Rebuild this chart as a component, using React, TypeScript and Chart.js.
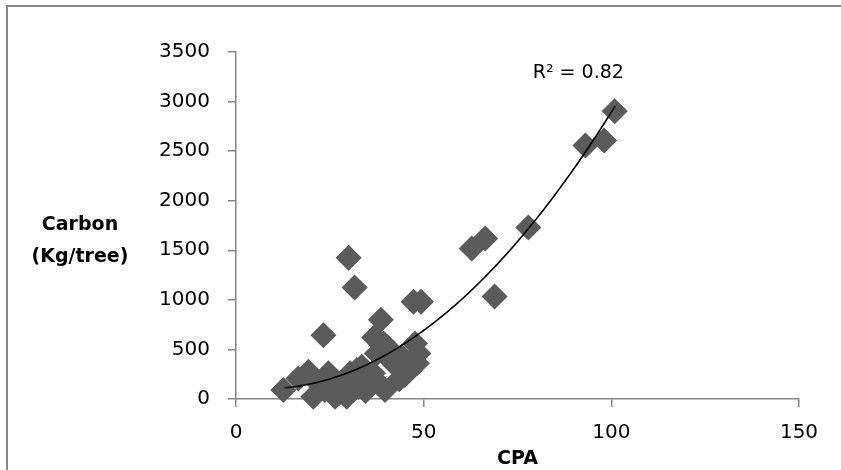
import { useEffect, useRef } from 'react';
import { Chart, registerables } from 'chart.js';

Chart.register(...registerables);

// CPA (x) and Carbon in Kg/tree (y)
const cpa = [
  12.6, 16.6, 19.3, 20.6, 21.5, 23.3, 23.7, 24.6, 26.4, 27.5, 28.2, 29.5, 30.0, 30.4,
  31.6, 32.2, 32.6, 33.5, 34.5, 35.7, 36.5, 36.8, 37.5, 37.9, 38.6, 39.3, 39.7, 40.2,
  41.0, 42.4, 43.5, 44.2, 45.0, 46.0, 47.3, 47.7, 48.2, 48.6, 49.3, 62.8, 66.4, 68.9,
  77.9, 93.1, 98.1, 100.9,
];
const carbon = [
  90, 208, 275, 23, 174, 644, 90, 259, 23, 60, 158, 23, 1425, 259,
  1125, 292, 124, 325, 80, 208, 260, 620, 460, 158, 800, 560, 90, 527,
  400, 342, 200, 426, 242, 350, 981, 561, 360, 460, 981, 1517, 1618, 1035,
  1730, 2558, 2608, 2903,
];

const xMin = 0;
const xMax = 150;
const xStep = 50;
const yMin = 0;
const yMax = 3500;
const yStep = 500;

// Polynomial (order 2) trend line coefficients, as shown in the picture
const trendCoeffs = [121.9, -4.94, 0.3265];
const trendFrom = 13;
const trendTo = 101;
const r2Label = 'R² = 0.82';
const r2At = { x: 91.2, y: 3285 };

const xTitle = 'CPA';
const yTitleLines = ['Carbon', '(Kg/tree)'];

const markerColor = '#5b5b5b';
const axisColor = '#868686';

const trendX: number[] = [];
for (let x = trendFrom; x <= trendTo; x += 1) trendX.push(x);
const trendPoints = trendX.map((x) => ({
  x,
  y: trendCoeffs[0] + trendCoeffs[1] * x + trendCoeffs[2] * x * x,
}));

const decorPlugin = {
  id: 'decor',
  beforeDraw(chart: any) {
    const { ctx } = chart;
    ctx.save();
    ctx.strokeStyle = axisColor;
    ctx.lineWidth = 2;
    ctx.beginPath();
    ctx.moveTo(7, chart.height + 5);
    ctx.lineTo(7, 6);
    ctx.lineTo(chart.width + 5, 6);
    ctx.stroke();
    ctx.restore();
  },
  afterDraw(chart: any) {
    const { ctx, chartArea, scales } = chart;
    ctx.save();
    ctx.fillStyle = '#000';
    ctx.textAlign = 'center';
    ctx.textBaseline = 'middle';
    ctx.font = 'bold 19px "DejaVu Sans"';
    const cx = chartArea.left - 156;
    ctx.fillText(yTitleLines[0], cx, 225);
    ctx.fillText(yTitleLines[1], cx, 257);
    ctx.font = '19px "DejaVu Sans"';
    ctx.fillText(r2Label, scales.x.getPixelForValue(r2At.x), scales.y.getPixelForValue(r2At.y));
    ctx.restore();
  },
};

export default function App() {
  const ref = useRef<HTMLCanvasElement | null>(null);
  useEffect(() => {
    if (!ref.current) return;
    const chart = new Chart(ref.current, {
      type: 'scatter',
      data: {
        datasets: [
          {
            type: 'line',
            label: 'trend',
            data: trendPoints,
            borderColor: '#000',
            borderWidth: 1.6,
            pointRadius: 0,
            fill: false,
            tension: 0,
            order: 0,
          } as any,
          {
            label: 'Carbon',
            data: cpa.map((x, i) => ({ x, y: carbon[i] })),
            pointStyle: 'rectRot',
            pointRadius: 13,
            pointHoverRadius: 13,
            backgroundColor: markerColor,
            borderColor: markerColor,
            borderWidth: 0,
            clip: false,
            order: 1,
          } as any,
        ],
      },
      options: {
        animation: false,
        responsive: false,
        events: [],
        layout: { padding: { left: 0, right: 42, top: 52, bottom: 0 } },
        plugins: {
          legend: { display: false },
          tooltip: { enabled: false },
          title: { display: false },
        },
        scales: {
          x: {
            type: 'linear',
            min: xMin,
            max: xMax,
            border: { color: axisColor, width: 1.5 },
            grid: { drawOnChartArea: false, tickLength: 8, color: axisColor, lineWidth: 1.5 },
            ticks: {
              stepSize: xStep,
              padding: 14,
              color: '#000',
              font: { family: '"DejaVu Sans"', size: 20 },
              callback: (v: any) => String(v),
            },
            title: {
              display: true,
              text: xTitle,
              color: '#000',
              padding: { top: -4, bottom: 0 },
              font: { family: '"DejaVu Sans"', size: 19, weight: 'bold' },
            },
            afterFit(scale: any) {
              scale.height = 71;
            },
          },
          y: {
            type: 'linear',
            min: yMin,
            max: yMax,
            border: { color: axisColor, width: 1.5 },
            grid: { drawOnChartArea: false, tickLength: 8, color: axisColor, lineWidth: 1.5 },
            ticks: {
              stepSize: yStep,
              padding: 18,
              color: '#000',
              font: { family: '"DejaVu Sans"', size: 20 },
              callback: (v: any) => String(v),
            },
            afterFit(scale: any) {
              scale.width = 236;
            },
          },
        },
      },
      plugins: [decorPlugin],
    });
    return () => chart.destroy();
  }, []);
  return (
    <div style={{ position: 'fixed', left: 0, top: 0, width: 841, height: 470, background: '#fff' }}>
      <canvas ref={ref} width={841} height={470} style={{ display: 'block' }} />
    </div>
  );
}
